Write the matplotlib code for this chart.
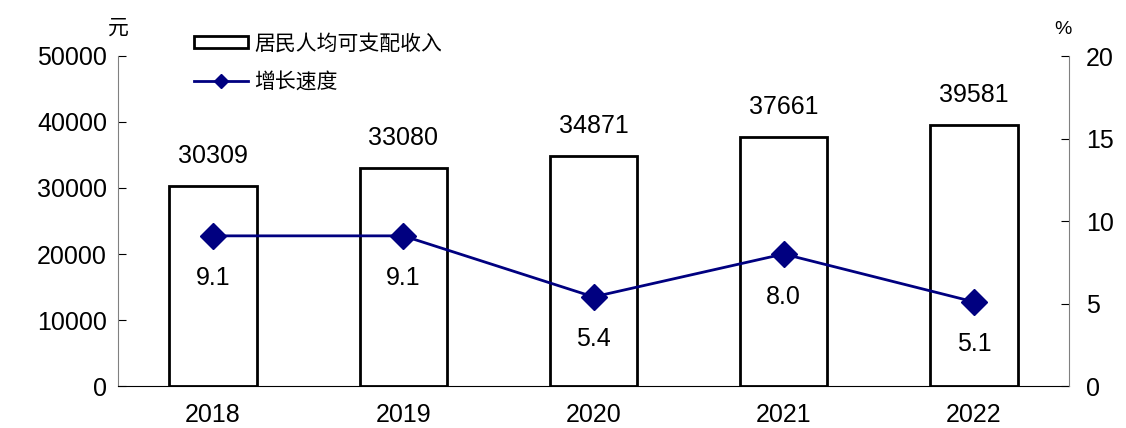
import matplotlib.pyplot as plt
from matplotlib.lines import Line2D
from matplotlib.patches import Rectangle

plt.rcParams['font.family'] = ['Liberation Sans', 'Noto Sans CJK SC', 'DejaVu Sans']

years = ['2018', '2019', '2020', '2021', '2022']
income = [30309, 33080, 34871, 37661, 39581]
growth = [9.1, 9.1, 5.4, 8.0, 5.1]

navy = '#000080'
fig = plt.figure(figsize=(11.26, 4.28), dpi=100)
ax = fig.add_axes([118 / 1126, 42 / 428, 951 / 1126, 330 / 428])
x = list(range(len(years)))

ax.bar(x, income, width=0.46, color='white', edgecolor='black', linewidth=2, zorder=2)
for xi, v in zip(x, income):
    ax.annotate(str(v), (xi, v), xytext=(0, 13), textcoords='offset points',
                ha='center', va='bottom', fontsize=18)
ax.set_xlim(-0.5, 4.5)
ax.set_ylim(0, 50000)
ax.set_yticks(range(0, 50001, 10000))
ax.set_xticks(x)
ax.set_xticklabels(years)
ax.tick_params(axis='y', direction='in', length=6, labelsize=18, pad=8)
ax.tick_params(axis='x', length=0, labelsize=18, pad=12)
ax.spines['top'].set_visible(False)
ax.spines['left'].set_color('#808080')
ax.spines['right'].set_visible(False)

ax2 = ax.twinx()
ax2.plot(x, growth, color=navy, linewidth=2, marker='D', markersize=13, zorder=3)
for xi, g in zip(x, growth):
    ax2.annotate(f'{g:.1f}', (xi, g), xytext=(0, -22), textcoords='offset points',
                 ha='center', va='top', fontsize=18)
ax2.set_ylim(0, 20)
ax2.set_yticks(range(0, 21, 5))
ax2.tick_params(axis='y', direction='in', length=6, labelsize=18, pad=12)
for s in ['top', 'left', 'bottom']:
    ax2.spines[s].set_visible(False)
ax2.spines['right'].set_color('#808080')

fig.text(118 / 1126, 1 - 28 / 428, '元', fontsize=15, ha='center', va='center')
fig.text(1063 / 1126, 1 - 30 / 428, '%', fontsize=14, ha='center', va='center')

handles = [Rectangle((0, 0), 1, 1, facecolor='white', edgecolor='black', linewidth=2),
           Line2D([], [], color=navy, linewidth=2, marker='D', markersize=7)]
fig.legend(handles, ['居民人均可支配收入', '增长速度'], loc='upper left',
           bbox_to_anchor=(194 / 1126, 1 - 34 / 428), frameon=False, fontsize=15,
           handlelength=2.6, handleheight=0.5, labelspacing=0.85, handletextpad=0.3,
           borderpad=0, borderaxespad=0)

fig.savefig('out.png', dpi=100)
